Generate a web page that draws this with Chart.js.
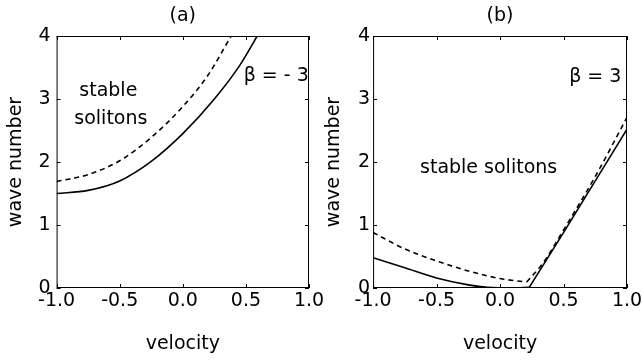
<!DOCTYPE html>
<html>
<head>
<meta charset="utf-8">
<script src="https://cdn.jsdelivr.net/npm/chart.js@4/dist/chart.umd.min.js"></script>
<style>
  html, body { margin: 0; padding: 0; background: #fff; overflow: hidden; }
  #wrap { position: relative; width: 642px; height: 360px; }
  canvas { position: absolute; top: 0; }
  #chartA { left: 0; }
  #chartB { left: 321px; }
</style>
</head>
<body>
<div id="wrap">
  <canvas id="chartA" width="340" height="360"></canvas>
  <canvas id="chartB" width="340" height="360"></canvas>
</div>
<script>
// Panel (a), beta = -3
const velSolidA  = [-1, -0.75, -0.5, -0.25, 0, 0.25, 0.45, 0.59];
const waveSolidA = [1.5, 1.55, 1.70, 2.01, 2.45, 3.0, 3.53, 4.0];
const velDashA   = [-1, -0.75, -0.5, -0.25, 0, 0.2, 0.383];
const waveDashA  = [1.69, 1.80, 2.02, 2.39, 2.88, 3.38, 4.0];

// Panel (b), beta = 3 : curved left branch + nearly straight right branch
const velSolidB1  = [-1, -0.75, -0.5, -0.25, -0.1, 0.1, 0.23];
const waveSolidB1 = [0.48, 0.32, 0.16, 0.05, 0.01, 0, 0.01];
const velSolidB2  = [0.23, 0.5, 0.75, 1];
const waveSolidB2 = [0.01, 0.88, 1.7, 2.52];
const velDashB1   = [-1, -0.75, -0.5, -0.25, 0, 0.21];
const waveDashB1  = [0.88, 0.62, 0.43, 0.27, 0.15, 0.094];
const velDashB2   = [0.21, 0.34, 0.5, 0.75, 1];
const waveDashB2  = [0.094, 0.40, 0.92, 1.77, 2.71];

const xTicks = [-1, -0.5, 0, 0.5, 1];
const yTicks = [0, 1, 2, 3, 4];

const FONT = "'DejaVu Sans', Verdana, sans-serif";
const FSIZE = 19;

function toPoints(xs, ys) {
  return xs.map((x, i) => ({ x, y: ys[i] }));
}

// box around the plot + inward ticks on all four sides + text labels
const framePlugin = {
  id: 'frame',
  afterDraw(chart, args, opts) {
    const { ctx, chartArea: a, scales } = chart;
    ctx.save();
    ctx.strokeStyle = '#000';
    ctx.lineWidth = 1;
    ctx.strokeRect(a.left + 0.5, a.top + 0.5, a.right - a.left - 1, a.bottom - a.top - 1);
    const len = 4;
    ctx.beginPath();
    xTicks.forEach(v => {
      const px = Math.round(scales.x.getPixelForValue(v)) + 0.5;
      ctx.moveTo(px, a.bottom); ctx.lineTo(px, a.bottom - len);
      ctx.moveTo(px, a.top); ctx.lineTo(px, a.top + len);
    });
    yTicks.forEach(v => {
      const py = Math.round(scales.y.getPixelForValue(v)) + 0.5;
      ctx.moveTo(a.left, py); ctx.lineTo(a.left + len, py);
      ctx.moveTo(a.right, py); ctx.lineTo(a.right - len, py);
    });
    ctx.stroke();

    ctx.fillStyle = '#000';
    ctx.font = FSIZE + 'px ' + FONT;
    ctx.textAlign = 'center';
    ctx.textBaseline = 'middle';
    (opts.labels || []).forEach(l => {
      ctx.fillText(l.text, scales.x.getPixelForValue(l.x), scales.y.getPixelForValue(l.y));
    });
    ctx.restore();
  }
};

function line(data, dashed) {
  return {
    data,
    showLine: true,
    borderColor: '#000',
    borderWidth: 1.6,
    borderDash: dashed ? [5, 4] : [],
    pointRadius: 0,
    cubicInterpolationMode: 'monotone'
  };
}

function makeChart(id, title, datasets, labels, pad) {
  return new Chart(document.getElementById(id), {
    type: 'scatter',
    data: { datasets },
    options: {
      responsive: false,
      animation: false,
      layout: { padding: { left: 0, right: pad.right, top: 4.6, bottom: 0 } },
      plugins: {
        legend: { display: false },
        tooltip: { enabled: false },
        title: {
          display: true,
          text: title,
          fullSize: false,
          color: '#000',
          font: { family: FONT, size: FSIZE, weight: 'normal' },
          padding: { top: 0, bottom: 8.6 }
        },
        frame: { labels }
      },
      scales: {
        x: {
          type: 'linear',
          min: -1, max: 1,
          afterBuildTicks: s => { s.ticks = xTicks.map(v => ({ value: v })); },
          grid: { display: false, drawTicks: false },
          border: { display: false },
          ticks: {
            color: '#000',
            font: { family: FONT, size: FSIZE },
            padding: 2,
            maxRotation: 0,
            callback: v => v.toFixed(1)
          },
          title: {
            display: true,
            text: 'velocity',
            color: '#000',
            font: { family: FONT, size: FSIZE },
            padding: { top: 17.8, bottom: 4.6 }
          }
        },
        y: {
          type: 'linear',
          min: 0, max: 4,
          afterBuildTicks: s => { s.ticks = yTicks.map(v => ({ value: v })); },
          grid: { display: false, drawTicks: false },
          border: { display: false },
          ticks: {
            color: '#000',
            font: { family: FONT, size: FSIZE },
            padding: pad.tick,
            callback: v => String(v)
          },
          title: {
            display: true,
            text: 'wave number',
            color: '#000',
            font: { family: FONT, size: FSIZE },
            padding: { top: pad.outer, bottom: pad.inner }
          }
        }
      }
    },
    plugins: [framePlugin]
  });
}

makeChart('chartA', '(a)',
  [
    line(toPoints(velSolidA, waveSolidA), false),
    line(toPoints(velDashA, waveDashA), true)
  ],
  [
    { text: 'stable', x: -0.59, y: 3.12 },
    { text: 'solitons', x: -0.57, y: 2.68 },
    { text: 'β = - 3', x: 0.74, y: 3.37 }
  ],
  { right: 31, outer: 4.2, inner: 5.5, tick: 6 });

makeChart('chartB', '(b)',
  [
    line(toPoints(velSolidB1, waveSolidB1), false),
    line(toPoints(velSolidB2, waveSolidB2), false),
    line(toPoints(velDashB1, waveDashB1), true),
    line(toPoints(velDashB2, waveDashB2), true)
  ],
  [
    { text: 'β = 3', x: 0.75, y: 3.35 },
    { text: 'stable solitons', x: -0.09, y: 1.9 }
  ],
  { right: 34, outer: 1.2, inner: 10, tick: 3 });
</script>
</body>
</html>
